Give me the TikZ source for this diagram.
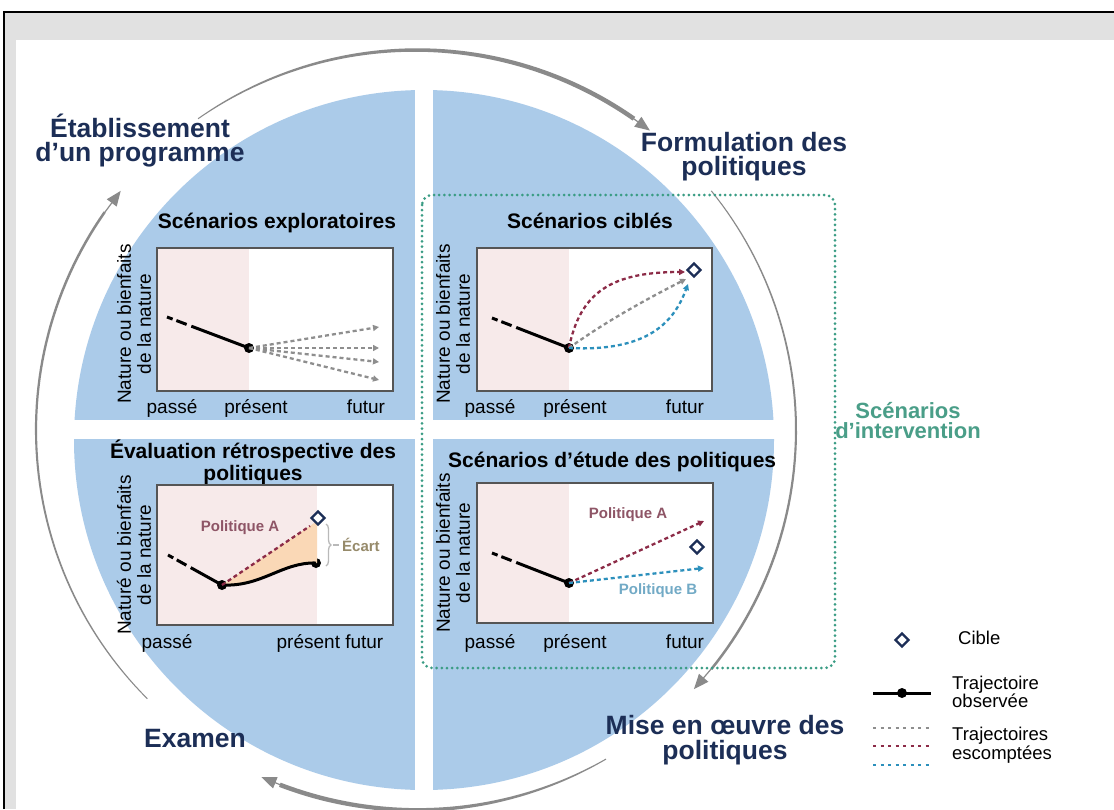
\documentclass[tikz,border=0pt]{standalone}
\usepackage{fontspec}
\setmainfont{Liberation Sans}
\usetikzlibrary{arrows.meta,decorations.pathreplacing,shapes.geometric,calc}
\definecolor{navy}{HTML}{1C2E56}
\definecolor{discblue}{HTML}{ABCBE9}
\definecolor{pinkbg}{HTML}{F7EAEA}
\definecolor{boxgray}{HTML}{555555}
\definecolor{trajred}{HTML}{8C2B47}
\definecolor{trajgray}{HTML}{8E8E8E}
\definecolor{trajblue}{HTML}{2C90BC}
\definecolor{polA}{HTML}{8E5566}
\definecolor{polB}{HTML}{72AAC6}
\definecolor{tealgreen}{HTML}{3A9C84}
\definecolor{tealtext}{HTML}{4A9E88}
\definecolor{arcgray}{HTML}{8A8A8A}
\definecolor{framegray}{HTML}{E1E1E1}
\definecolor{fillorange}{HTML}{FAD8B6}
\definecolor{ecart}{HTML}{968A6A}
% crescent arc around centre (416,430), radius 380
\newcommand\crescentarc[4]{%
  \fill[arcgray] plot[domain=#1:#2,samples=60,variable=\t]
    ({416+(380+0.5*(#4+(#3-#4)*sin(90*(\t-(#1))/((#2)-(#1)))))*cos(\t)},
     {430+(380+0.5*(#4+(#3-#4)*sin(90*(\t-(#1))/((#2)-(#1)))))*sin(\t)})
   -- plot[domain=#2:#1,samples=60,variable=\t]
    ({416+(380-0.5*(#4+(#3-#4)*sin(90*(\t-(#1))/((#2)-(#1)))))*cos(\t)},
     {430+(380-0.5*(#4+(#3-#4)*sin(90*(\t-(#1))/((#2)-(#1)))))*sin(\t)})
   -- cycle;}
\begin{document}
\begin{tikzpicture}[x=1pt,y=-1pt,
  bigtitle/.style={font=\fontsize{26.5}{26}\selectfont\bfseries, text=navy, inner sep=0pt, anchor=base},
  ptitle/.style={font=\fontsize{21}{21}\selectfont\bfseries, inner sep=0pt, anchor=base},
  axlab/.style={font=\fontsize{19}{19}\selectfont, inner sep=0pt, anchor=base},
  ylab/.style={font=\fontsize{19}{20}\selectfont, inner sep=0pt, rotate=90, align=center},
  chartbox/.style={draw=boxgray, line width=1.8pt},
  obsline/.style={draw=black, line width=3pt},
  dotnode/.style={circle, fill=black, inner sep=0pt, minimum size=10pt},
  cibleshape/.style={diamond, draw=navy, line width=2.4pt, fill=white, inner sep=0pt, minimum width=14pt, minimum height=14pt},
  expbase/.style={line width=2.3pt, dash pattern=on 4pt off 3pt},
  trajG/.style={expbase, draw=trajgray, -{Triangle[length=6pt,width=6pt]}},
  trajR/.style={expbase, draw=trajred, -{Triangle[length=6pt,width=6pt]}},
  trajB/.style={expbase, draw=trajblue, -{Triangle[length=6pt,width=6pt]}},
  poltext/.style={font=\fontsize{15}{15}\selectfont\bfseries, inner sep=0pt},
  legtext/.style={font=\fontsize{18.5}{15}\selectfont, inner sep=0pt, anchor=west, align=left},
  arrowtip/.style={draw=arcgray, line width=1.2pt, -{Triangle[length=15pt,width=12pt]}},
  pastdash/.style={obsline, dash pattern=on 6pt off 4pt on 11pt off 5pt on 400pt off 1pt},
]
\useasboundingbox (0,0) rectangle (1114,809);
\clip (0,0) rectangle (1114,809);
% frame
\fill[framegray] (4,12) rectangle (1114,809);
\fill[white] (16,40) rectangle (1114,809);
\draw[black, line width=2pt] (4,809) -- (4,12) -- (1114,12);
% disc
\fill[discblue] (424,440) circle [radius=350];
\fill[white] (415,60) rectangle (433,800);
\fill[white] (40,420) rectangle (800,439);
% cycle arcs
\coordinate (C) at (416,430);
\crescentarc{-125}{-55}{4.5}{1}
\draw[arrowtip] ($(C)+(-56:380)$) -- ($(C)+(-52:380)$);
\crescentarc{-39}{39}{2.5}{1}
\draw[arrowtip] ($(C)+(38:380)$) -- ($(C)+(43:380)$);
\crescentarc{60}{111}{4.5}{1}
\draw[arrowtip] ($(C)+(110:380)$) -- ($(C)+(114:380)$);
\crescentarc{135}{215}{2.5}{1}
\draw[arrowtip] ($(C)+(214:380)$) -- ($(C)+(219:380)$);
% intervention box
\draw[tealgreen, line width=3pt, dash pattern=on 0pt off 5.2pt, line cap=round, rounded corners=10pt] (422,195) rectangle (835,668);
\node[font=\fontsize{22}{20}\selectfont\bfseries, text=tealtext, align=center, inner sep=0pt] (interv) at (908,421) {Scénarios\\d’intervention};

% ---------- panel TL
\node[ptitle] (tlT) at (277,228) {Scénarios exploratoires};
\fill[white] (157,248) rectangle (393,391);
\fill[pinkbg] (157,248) rectangle (249,391);
\draw[chartbox] (157,248) rectangle (393,391);
\coordinate (a0) at (167,317);
\node[dotnode] (a1) at (249,348) {};
\draw[pastdash] (a0) -- (a1.center);
\coordinate (ae1) at (379,327);
\coordinate (ae2) at (379,348);
\coordinate (ae3) at (379,362);
\coordinate (ae4) at (379,380);
\draw[trajG] (a1.center) -- (ae1);
\draw[trajG] (a1.center) -- (ae2);
\draw[trajG] (a1.center) -- (ae3);
\draw[trajG] (a1.center) -- (ae4);
\node[axlab] (tlx1) at (172,413) {passé};
\node[axlab] (tlx2) at (256,413) {présent};
\node[axlab] (tlx3) at (366,413) {futur};
\node[ylab] (tly) at (134,324) {Nature ou bienfaits\\de la nature};

% ---------- panel TR
\node[ptitle] (trT) at (590,228) {Scénarios ciblés};
\fill[white] (477,248) rectangle (712,391);
\fill[pinkbg] (477,248) rectangle (569,391);
\draw[chartbox] (477,248) rectangle (712,391);
\coordinate (b0) at (492,318);
\node[dotnode] (b1) at (569,348) {};
\draw[pastdash] (b0) -- (b1.center);
\node[cibleshape] (bt) at (694,270) {};
\coordinate (be1) at (685,272);
\coordinate (be2) at (686,279);
\coordinate (be3) at (688,284);
\draw[trajR] (b1.center) .. controls (580,292) and (612,272) .. (be1);
\draw[trajG] (b1.center) .. controls (605,322) and (645,300) .. (be2);
\draw[trajB] (b1.center) .. controls (648,352) and (674,322) .. (be3);
\node[axlab] (trx1) at (490,413) {passé};
\node[axlab] (trx2) at (575,413) {présent};
\node[axlab] (trx3) at (685,413) {futur};
\node[ylab] (try) at (453,324) {Nature ou bienfaits\\de la nature};

% ---------- panel BL
\node[ptitle] (blT1) at (253,458) {Évaluation rétrospective des};
\node[ptitle] (blT2) at (253,480) {politiques};
\fill[white] (157,485) rectangle (393,625);
\fill[pinkbg] (157,485) rectangle (317,625);
\draw[chartbox] (157,485) rectangle (393,625);
\coordinate (c0) at (168,555);
\node[dotnode] (c1) at (222,585) {};
\node[dotnode] (c2) at (316,563) {};
\fill[fillorange] (c1.center) -- (310,526) -- (317,521) -- (317,563) .. controls (282,562) and (262,587) .. (c1.center) -- cycle;
\draw[pastdash] (c0) -- (c1.center);
\draw[obsline] (c1.center) .. controls (262,587) and (282,562) .. (c2.center);
\node[cibleshape] (ct) at (318,518) {};
\coordinate (ce) at (310,526);
\draw[expbase, draw=trajred] (c1.center) -- (ce);
\node[poltext, text=polA] (cpa) at (240,528) {Politique A};
\draw[decorate, decoration={brace, amplitude=5pt}, draw=gray!55, line width=1.3pt] (326,524) -- (326,566);
\coordinate (cb1) at (333,545);
\coordinate (cb2) at (339,545);
\draw[gray!55, line width=1.3pt] (cb1) -- (cb2);
\node[poltext, text=ecart, anchor=west] (cec) at (342,545) {Écart};
\node[axlab] (blx1) at (167,648) {passé};
\node[axlab] (blx2) at (330,648) {présent futur};
\node[ylab] (bly) at (134,555) {Naturé ou bienfaits\\de la nature};

% ---------- panel BR
\node[ptitle, anchor=base west] (brT) at (448,467) {Scénarios d’étude des politiques};
\fill[white] (477,483) rectangle (713,623);
\fill[pinkbg] (477,483) rectangle (569,623);
\draw[chartbox] (477,483) rectangle (713,623);
\coordinate (d0) at (492,553);
\node[dotnode] (d1) at (569,583) {};
\draw[pastdash] (d0) -- (d1.center);
\coordinate (de1) at (704,521);
\coordinate (de2) at (704,568);
\draw[trajR] (d1.center) -- (de1);
\draw[trajB] (d1.center) -- (de2);
\node[cibleshape] (dt) at (697,547) {};
\node[poltext, text=polA] (dpa) at (628,515) {Politique A};
\node[poltext, text=polB] (dpb) at (658,591) {Politique B};
\node[axlab] (brx1) at (490,648) {passé};
\node[axlab] (brx2) at (575,648) {présent};
\node[axlab] (brx3) at (685,648) {futur};
\node[ylab] (bry) at (453,553) {Nature ou bienfaits\\de la nature};

% ---------- big titles
\node[bigtitle] (t1a) at (140,137) {Établissement};
\node[bigtitle] (t1b) at (140,161) {d’un programme};
\node[bigtitle] (t2a) at (744,151) {Formulation des};
\node[bigtitle] (t2b) at (744,175) {politiques};
\node[bigtitle] (t3a) at (725,734) {Mise en œuvre des};
\node[bigtitle] (t3b) at (725,759) {politiques};
\node[bigtitle] (t4) at (195,747) {Examen};

% ---------- legend
\node[cibleshape] (lg1) at (902,640) {};
\node[legtext] (lg1t) at (958,638) {Cible};
\coordinate (lg2a) at (873,693);
\coordinate (lg2b) at (931,693);
\draw[black, line width=3pt] (lg2a) -- (lg2b);
\node[dotnode] (lg2d) at (902,693) {};
\node[legtext] (lg2t) at (952,692) {Trajectoire\\observée};
\coordinate (lg3a) at (873,728);
\coordinate (lg3b) at (931,728);
\coordinate (lg4a) at (873,746);
\coordinate (lg4b) at (931,746);
\coordinate (lg5a) at (873,765);
\coordinate (lg5b) at (931,765);
\draw[line width=2.8pt, dash pattern=on 3pt off 4.5pt, draw=trajgray] (lg3a) -- (lg3b);
\draw[line width=2.8pt, dash pattern=on 3pt off 4.5pt, draw=trajred] (lg4a) -- (lg4b);
\draw[line width=2.8pt, dash pattern=on 3pt off 4.5pt, draw=trajblue] (lg5a) -- (lg5b);
\node[legtext] (lg3t) at (952,745) {Trajectoires\\escomptées};
\end{tikzpicture}
\end{document}
